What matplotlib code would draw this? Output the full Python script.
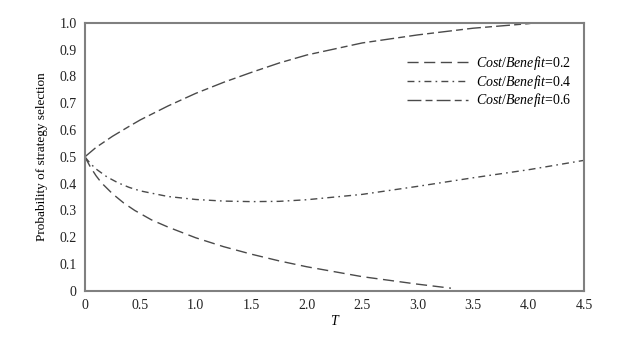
import matplotlib
matplotlib.use("Agg")
import matplotlib.pyplot as plt

plt.rcParams['font.family'] = ['Liberation Serif', 'DejaVu Serif']
plt.rcParams['mathtext.fontset'] = 'custom'
plt.rcParams['mathtext.it'] = 'Liberation Serif:italic'
plt.rcParams['mathtext.rm'] = 'Liberation Serif'

t_02 = [0, 0.05, 0.1, 0.15, 0.25, 0.35, 0.45, 0.6, 0.75, 1.0, 1.25, 1.5, 1.75, 2.0, 2.5, 3.0, 3.3]
p_02 = [0.5, 0.462, 0.43, 0.403, 0.362, 0.328, 0.3, 0.265, 0.238, 0.198, 0.165, 0.137, 0.112, 0.09, 0.053, 0.025, 0.01]

t_04 = [0, 0.05, 0.1, 0.2, 0.3, 0.4, 0.5, 0.75, 1.0, 1.25, 1.5, 1.75, 2.0, 2.5, 3.0, 3.5, 4.0, 4.5]
p_04 = [0.5, 0.475, 0.455, 0.425, 0.403, 0.386, 0.373, 0.352, 0.341, 0.335, 0.333, 0.334, 0.34, 0.36, 0.39, 0.422, 0.452, 0.487]

t_06 = [0, 0.1, 0.25, 0.4, 0.5, 0.75, 1.0, 1.25, 1.5, 1.75, 2.0, 2.5, 3.0, 3.5, 4.0, 4.05]
p_06 = [0.5, 0.535, 0.577, 0.614, 0.638, 0.69, 0.737, 0.778, 0.815, 0.85, 0.88, 0.925, 0.955, 0.98, 0.997, 1.0]

labels = [r"$\it{Cost/Benefit}$=0.2", r"$\it{Cost/Benefit}$=0.4", r"$\it{Cost/Benefit}$=0.6"]
xticks = [0, 0.5, 1.0, 1.5, 2.0, 2.5, 3.0, 3.5, 4.0, 4.5]
xticklabels = ["0", "0.5", "1.0", "1.5", "2.0", "2.5", "3.0", "3.5", "4.0", "4.5"]
yticks = [0, 0.1, 0.2, 0.3, 0.4, 0.5, 0.6, 0.7, 0.8, 0.9, 1.0]
yticklabels = ["0", "0.1", "0.2", "0.3", "0.4", "0.5", "0.6", "0.7", "0.8", "0.9", "1.0"]

fig = plt.figure(figsize=(6.24, 3.41), dpi=100)
ax = fig.add_axes([0.136, 0.147, 0.800, 0.786])

col = '#4a4a4a'
ax.plot(t_02, p_02, color=col, lw=1.0, dashes=(8, 4), label=labels[0])
ax.plot(t_04, p_04, color=col, lw=1.0, dashes=(5, 3, 1.2, 3), label=labels[1])
ax.plot(t_06, p_06, color=col, lw=1.0, dashes=(10, 3, 5, 3), label=labels[2])

ax.set_xlim(0, 4.5)
ax.set_ylim(0, 1.0)
ax.set_xticks(xticks)
ax.set_xticklabels(xticklabels)
ax.set_yticks(yticks)
ax.set_yticklabels(yticklabels)
ax.tick_params(length=0, labelsize=10, colors='#222222', pad=6)
for s in ax.spines.values():
    s.set_color('#808080')
    s.set_linewidth(1.5)

ax.set_xlabel('T', fontstyle='italic', fontsize=10, labelpad=2)
ax.set_ylabel('Probability of strategy selection', fontsize=9.5, labelpad=8)

ax.legend(loc='upper right', frameon=False, fontsize=10, handlelength=4.4,
          handletextpad=0.6, bbox_to_anchor=(1.0, 0.93), labelspacing=0.05)

fig.savefig('out.png', dpi=100)
